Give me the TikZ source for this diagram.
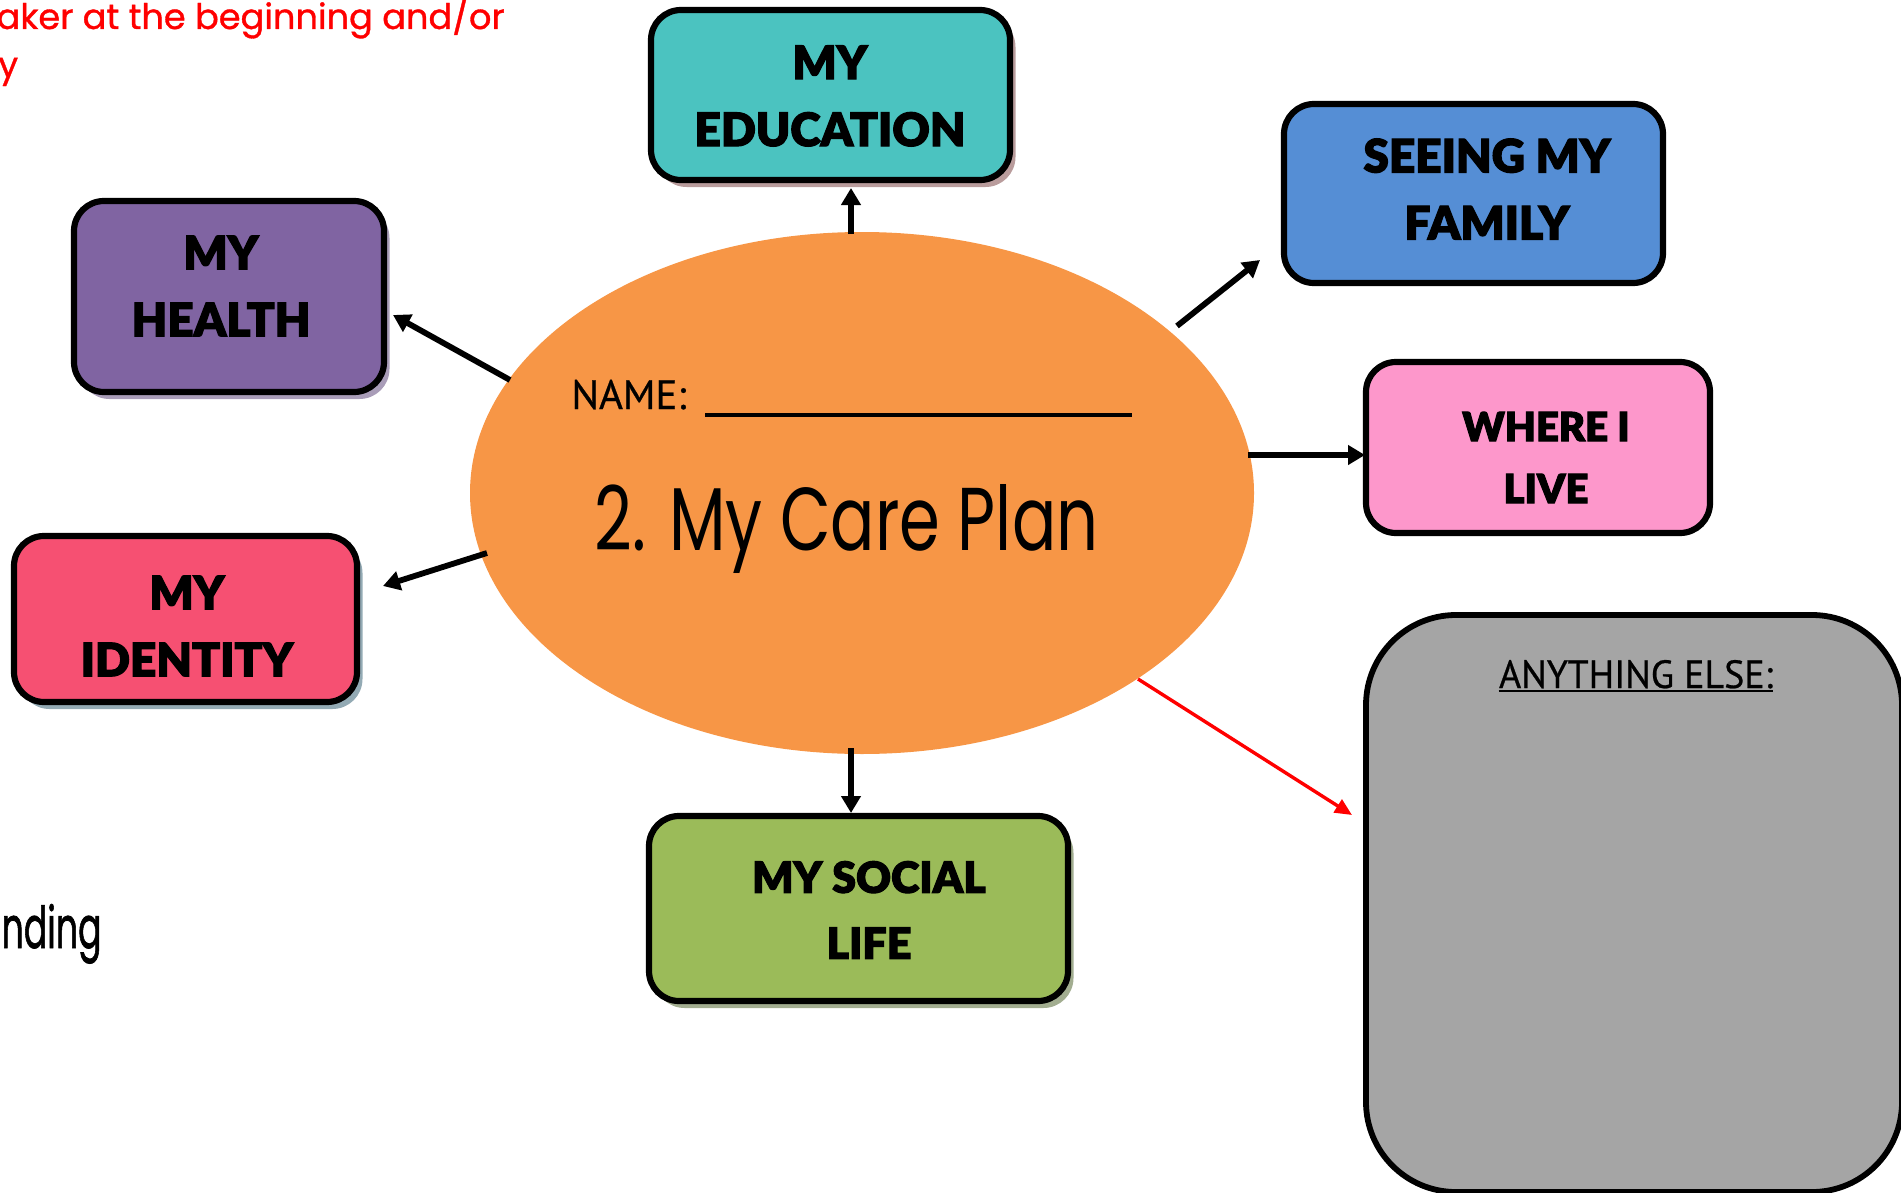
\documentclass[tikz,border=0pt]{standalone}
\usepackage{fontspec}
\usetikzlibrary{shapes.geometric,arrows.meta,shadows}
\newfontfamily\boxfont{Lato Black}[FakeBold=2.5]
\newfontfamily\popfont{Poppins}
\newfontfamily\handfont{Poppins}[FakeBold=1.5]
\newfontfamily\redfont{Poppins}[FakeBold=1.0]
\newfontfamily\ptfont{PT Sans}[FakeBold=0.6]
\definecolor{cEdu}{HTML}{4BC3C0}
\definecolor{cFam}{HTML}{558ED5}
\definecolor{cHea}{HTML}{8064A2}
\definecolor{cLiv}{HTML}{FD97CB}
\definecolor{cIde}{HTML}{F65072}
\definecolor{cSoc}{HTML}{9BBB59}
\definecolor{cEll}{HTML}{F79646}
\definecolor{cAny}{HTML}{A5A5A5}
\definecolor{sEdu}{HTML}{B99C9C}
\definecolor{sHea}{HTML}{A99DB8}
\definecolor{sIde}{HTML}{93AAB4}
\definecolor{sSoc}{HTML}{A2AD90}
\begin{document}
\begin{tikzpicture}[x=0.5pt,y=-0.5pt,
  box/.style={draw=black, line width=3.1pt, rounded corners=15pt, inner sep=0pt},
  shad/.style={general shadow={shadow xshift=2.75pt, shadow yshift=-3.5pt, fill=#1}},
  lbl/.style={align=center, inner sep=0pt, font=\boxfont\fontsize{23}{33.5}\selectfont},
  arr/.style={line width=2.9pt, -{Triangle[length=8.5pt,width=9.5pt]}},
  redarr/.style={draw=red, line width=1.7pt, -{Triangle[length=8.5pt,width=7.5pt]}},
  txt/.style={inner sep=0pt}]
\useasboundingbox (0,0) rectangle (1901,1193);
\clip (0,0) rectangle (1901,1193);

% central ellipse
\node[ellipse, fill=cEll, inner sep=0pt, minimum width=392pt, minimum height=261pt] (ell) at (862,493) {};

% boxes
\node[box, fill=cEdu, shad=sEdu, minimum width=179.5pt, minimum height=85pt] (edu) at (830.5,95) {};
\node[box, fill=cHea, shad=sHea, minimum width=155pt, minimum height=95.5pt] (hea) at (229,296.5) {};
\node[box, fill=cIde, shad=sIde, minimum width=171.5pt, minimum height=83pt] (ide) at (185.5,619) {};
\node[box, fill=cFam, minimum width=189.5pt, minimum height=89.5pt] (fam) at (1473.5,193.5) {};
\node[box, fill=cLiv, minimum width=172pt, minimum height=85.5pt] (liv) at (1538,447.5) {};
\node[box, fill=cSoc, shad=sSoc, minimum width=209.5pt, minimum height=92.5pt] (soc) at (858.5,908.5) {};
\node[draw=black, line width=2.9pt, rounded corners=45pt, fill=cAny, inner sep=0pt, minimum width=268pt, minimum height=288.5pt] (any) at (1634,903.5) {};

% box labels
\node[lbl] (eduT) at (830,96) {MY\\EDUCATION};
\node[lbl] (heaT) at (221,286) {MY\\HEALTH};
\node[lbl] (ideT) at (187,626) {MY\\IDENTITY};
\node[lbl] (famT) at (1487,189) {SEEING MY\\FAMILY};
\node[lbl, font=\boxfont\fontsize{20}{31}\selectfont] (livT) at (1546,457.5) {WHERE I\\LIVE};
\node[lbl, font=\boxfont\fontsize{21.5}{33}\selectfont] (socT) at (869,910) {MY SOCIAL\\LIFE};

% ellipse texts
\node[txt, anchor=base west, font=\ptfont\fontsize{20.5}{24}\selectfont] (name) at (571,409) {NAME:};
\coordinate (nameL) at (705,415);
\coordinate (nameR) at (1132,415);
\draw[line width=2pt] (nameL) -- (nameR);
\node[txt, anchor=base west] (care) at (594,550) {\resizebox{252pt}{33pt}{\popfont 2. My Care Plan}};

% anything else
\node[txt, anchor=base] (ae) at (1636,688) {\resizebox{137pt}{14pt}{\ptfont ANYTHING ELSE:}};
\draw[line width=1pt] ([yshift=-1.6pt]ae.base west) -- ([yshift=-1.6pt]ae.base east);

% stray texts
\node[txt, anchor=base east, text=red] (rt1) at (505,29) {\resizebox{254pt}{!}{\redfont\fontsize{16}{24}\selectfont aker at the beginning and/or}};
\node[txt, anchor=base west, text=red, font=\redfont\fontsize{17.5}{24}\selectfont] (rt2) at (-2,77) {y};
\node[txt, anchor=base east] (nd) at (102,948) {\resizebox{50pt}{22pt}{\handfont nding}};

% connectors
\coordinate (eduS) at (851,234);  \coordinate (eduE) at (851,188);
\coordinate (heaS) at (510,380);  \coordinate (heaE) at (393,315);
\coordinate (ideS) at (487,553);  \coordinate (ideE) at (383,586);
\coordinate (famS) at (1177,326); \coordinate (famE) at (1260,260);
\coordinate (livS) at (1248,455); \coordinate (livE) at (1365,455);
\coordinate (socS) at (851,748);  \coordinate (socE) at (851,813);
\coordinate (anyS) at (1138,679); \coordinate (anyE) at (1352,815);
\draw[arr] (eduS) -- (eduE);
\draw[arr] (heaS) -- (heaE);
\draw[arr] (ideS) -- (ideE);
\draw[arr] (famS) -- (famE);
\draw[arr] (livS) -- (livE);
\draw[arr] (socS) -- (socE);
\draw[redarr] (anyS) -- (anyE);
\end{tikzpicture}
\end{document}
